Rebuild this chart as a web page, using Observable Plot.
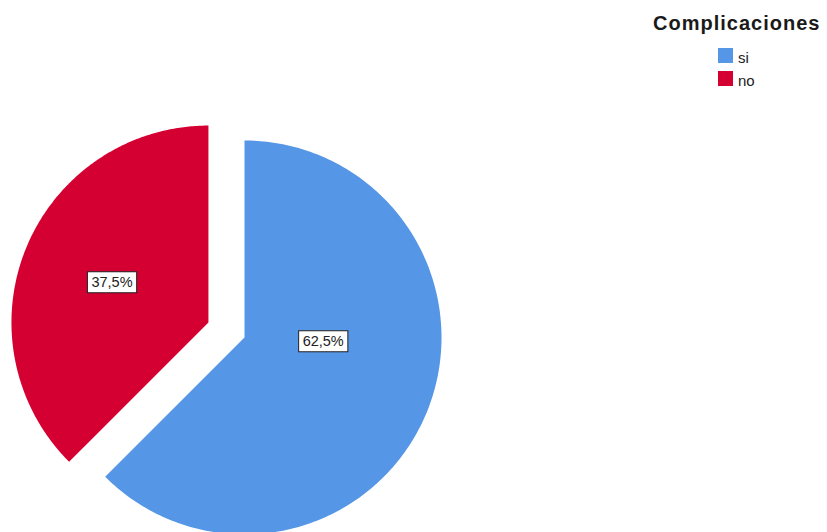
<!DOCTYPE html>
<html>
<head>
<meta charset="utf-8">
<script src="https://cdn.jsdelivr.net/npm/d3@7"></script>
<script src="https://cdn.jsdelivr.net/npm/@observablehq/plot@0.6"></script>
<style>
  html, body { margin: 0; padding: 0; background: #fff; }
  #wrap { position: relative; width: 827px; height: 532px; overflow: hidden; font-family: "Liberation Sans", Arial, sans-serif; }
  #legend { position: absolute; left: 0; top: 0; }
  .ltitle { position: absolute; left: 653px; top: 12px; font-weight: bold; font-size: 20px; letter-spacing: 1px; color: #1a1a1a; white-space: nowrap; }
  .lsw { position: absolute; left: 718px; width: 15px; height: 15px; }
  .ltxt { position: absolute; left: 738px; font-size: 15px; color: #222; }
</style>
</head>
<body>
<div id="wrap"><div id="chart"></div><div id="legend"></div></div>
<script>
// ---- data ----
const legendTitle = "Complicaciones";
const categories = ["si", "no"];
const percents = [62.5, 37.5];
const labels = ["62,5%", "37,5%"];
const colors = ["#5596e6", "#d50032"];
// ---- layout options ----
const explode = [0, 0.198];          // radial offset (in radii)
const labelRadius = [0.40, 0.53];    // label distance (in radii)
const labelAngleShift = [-19.5, 0];  // degrees relative to slice mid-angle

const pie = d3.pie().sort(null).value(d => d.value).startAngle(0).endAngle(2 * Math.PI);
const arcs = pie(categories.map((c, i) => ({key: c, value: percents[i], i})));

const pts = [];
const lbls = [];
for (const a of arcs) {
  const i = a.data.i;
  const mid = (a.startAngle + a.endAngle) / 2;
  const ox = explode[i] * Math.sin(mid), oy = explode[i] * Math.cos(mid);
  pts.push({key: a.data.key, x: ox, y: oy});
  const n = 240;
  for (let k = 0; k <= n; k++) {
    const t = a.startAngle + (a.endAngle - a.startAngle) * k / n;
    pts.push({key: a.data.key, x: ox + Math.sin(t), y: oy + Math.cos(t)});
  }
  const la = mid + labelAngleShift[i] * Math.PI / 180;
  lbls.push({text: labels[i], x: ox + labelRadius[i] * Math.sin(la), y: oy + labelRadius[i] * Math.cos(la)});
}

const W = 827, H = 532, R = 197, cx = 244, cy = 337;
const chart = Plot.plot({
  width: W, height: H,
  margin: 0,
  x: {domain: [-cx / R, (W - cx) / R], axis: null},
  y: {domain: [-(H - cy) / R, cy / R], axis: null},
  color: {domain: categories, range: colors},
  marks: [
    Plot.line(pts, {x: "x", y: "y", z: "key", fill: "key", stroke: "none", curve: "linear-closed"}),
    Plot.text(lbls, {x: "x", y: "y", text: "text", fontSize: 14.5, fontFamily: "Liberation Sans, Arial, sans-serif", fill: "#222", className: "lbl"})
  ]
});
document.getElementById("chart").appendChild(chart);

// boxes behind the labels
const svgNS = "http://www.w3.org/2000/svg";
chart.querySelectorAll("g.lbl text").forEach(t => {
  const b = t.getBBox();
  const r = document.createElementNS(svgNS, "rect");
  const padX = 4, padY = 3;
  r.setAttribute("x", b.x - padX);
  r.setAttribute("y", b.y - padY + 0.5);
  r.setAttribute("width", b.width + 2 * padX);
  r.setAttribute("height", b.height + 2 * padY - 1);
  r.setAttribute("fill", "#fff");
  r.setAttribute("stroke", "#222");
  r.setAttribute("stroke-width", "1");
  const tr = t.getAttribute("transform");
  if (tr) r.setAttribute("transform", tr);
  t.parentNode.insertBefore(r, t);
});

// legend
const lg = document.getElementById("legend");
const tt = document.createElement("div");
tt.className = "ltitle"; tt.textContent = legendTitle; lg.appendChild(tt);
categories.forEach((c, i) => {
  const s = document.createElement("div");
  s.className = "lsw"; s.style.top = (48 + i * 23) + "px"; s.style.background = colors[i];
  lg.appendChild(s);
  const l = document.createElement("div");
  l.className = "ltxt"; l.style.top = (49 + i * 23) + "px"; l.textContent = c;
  lg.appendChild(l);
});
</script>
</body>
</html>
